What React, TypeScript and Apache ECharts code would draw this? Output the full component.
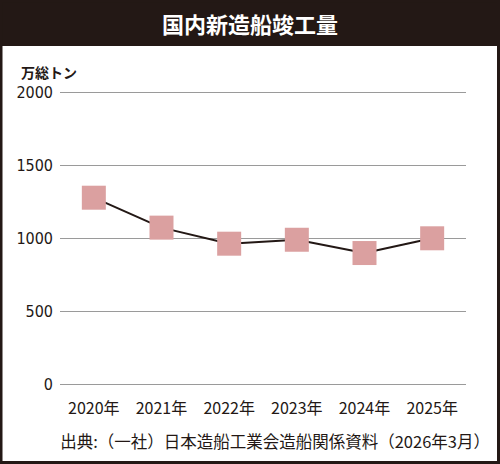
import React, { useEffect, useRef } from "react";
import * as echarts from "echarts";

const title = "国内新造船竣工量";
const unitLabel = "万総トン";
const source = "出典:（一社）日本造船工業会造船関係資料（2026年3月）";
const years = ["2020年", "2021年", "2022年", "2023年", "2024年", "2025年"];
const tonnage = [1276, 1071, 961, 988, 897, 998];
const yTicks = { min: 0, max: 2000, interval: 500 };

const DARK = "#231815";
const NUM_FONT = "'DejaVu Sans Condensed', 'Liberation Sans Narrow', sans-serif";
const JP_FONT = "'Noto Sans CJK JP', sans-serif";

export default function App() {
  const ref = useRef<HTMLDivElement>(null);
  useEffect(() => {
    document.body.style.margin = "0";
    const chart = echarts.init(ref.current!, null, { renderer: "svg" });
    chart.setOption({
      animation: false,
      backgroundColor: "#ffffff",
      grid: { left: 60, right: 34, top: 92, bottom: 80, containLabel: false },
      xAxis: {
        type: "category",
        data: years,
        boundaryGap: true,
        axisLine: { show: false },
        axisTick: { show: false },
        axisLabel: {
          interval: 0,
          color: DARK,
          fontSize: 16,
          fontFamily: JP_FONT,
          margin: 15,
        },
      },
      yAxis: {
        type: "value",
        min: yTicks.min,
        max: yTicks.max,
        interval: yTicks.interval,
        axisLine: { show: false },
        axisTick: { show: false },
        splitLine: { lineStyle: { color: "#9a9a9a", width: 1 } },
        axisLabel: {
          formatter: (v: number) => String(v),
          color: DARK,
          fontSize: 16,
          fontFamily: NUM_FONT,
          margin: 7,
        },
      },
      series: [
        {
          type: "line",
          data: tonnage,
          symbol: "rect",
          symbolSize: 24,
          lineStyle: { color: DARK, width: 2 },
          itemStyle: { color: "#dba0a0", borderWidth: 0 },
          z: 3,
        },
      ],
      graphic: [
        { type: "rect", shape: { x: 0, y: 0, width: 500, height: 46 }, style: { fill: DARK }, z: 10 },
        {
          type: "rect",
          shape: { x: 1, y: 1, width: 497.5, height: 461.5 },
          style: { fill: "none", stroke: DARK, lineWidth: 3 },
          z: 10,
        },
        {
          type: "text",
          x: 250,
          y: 23,
          style: {
            text: title,
            fill: "#ffffff",
            fontSize: 22,
            fontWeight: "bold",
            fontFamily: JP_FONT,
            align: "center",
            verticalAlign: "middle",
          },
          z: 11,
        },
        {
          type: "text",
          x: 21,
          y: 72,
          style: {
            text: unitLabel,
            fill: DARK,
            fontSize: 14,
            fontWeight: "bold",
            fontFamily: JP_FONT,
            align: "left",
            verticalAlign: "middle",
          },
          z: 11,
        },
        {
          type: "text",
          x: 490,
          y: 441,
          style: {
            text: source,
            fill: DARK,
            fontSize: 16.5,
            fontFamily: JP_FONT,
            align: "right",
            verticalAlign: "middle",
          },
          z: 11,
        },
      ],
    });
    return () => chart.dispose();
  }, []);
  return (
    <div
      ref={ref}
      style={{ position: "absolute", left: 0, top: 0, width: 500, height: 464 }}
    />
  );
}
